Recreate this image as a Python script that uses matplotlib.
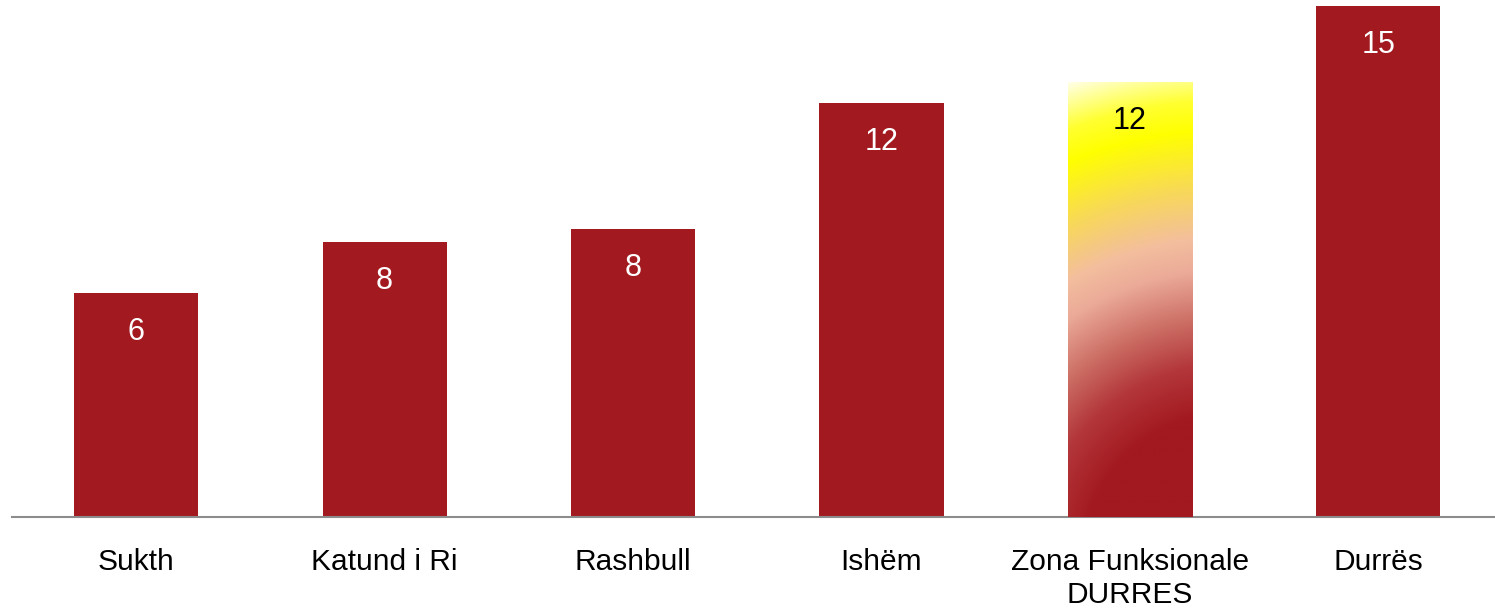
import numpy as np
import matplotlib
matplotlib.use("Agg")
import matplotlib.pyplot as plt
from matplotlib.colors import LinearSegmentedColormap

plt.rcParams['font.family'] = ['Liberation Sans', 'DejaVu Sans']

categories = ['Sukth', 'Katund i Ri', 'Rashbull', 'Ishëm', 'Zona Funksionale\nDURRES', 'Durrës']
values = [6.4, 7.86, 8.23, 11.83, 12.43, 14.6]
highlight = 4  # the functional zone bar gets the gradient fill

bar_red = '#A2191F'

fig = plt.figure(figsize=(14.95, 6.11), dpi=100)
ax = fig.add_axes([12 / 1495, 94 / 611, 1 - 12 / 1495, 517 / 611])

x = np.arange(len(categories))
bars = ax.bar(x, values, width=0.5, color=bar_red, zorder=2)
ax.set_xlim(-0.5, 5.47)
ax.set_ylim(0, 14.77)

# radial gradient for the highlighted bar, centred below its right edge
px_x = ax.bbox.width / (ax.get_xlim()[1] - ax.get_xlim()[0])
px_y = ax.bbox.height / (ax.get_ylim()[1] - ax.get_ylim()[0])
hb = bars[highlight]
x0, w, h = hb.get_x(), hb.get_width(), hb.get_height()
gx = np.linspace(x0, x0 + w, 200)
gy = np.linspace(0, h, 600)
GX, GY = np.meshgrid(gx, gy)
cx, cy = x0 + 1.3 * w, -43 / px_y
dist = np.hypot((GX - cx) * px_x, (GY - cy) * px_y)
stops = [(0, '#A2191F'), (145, '#A2191F'), (195, '#B3363A'), (235, '#C8665E'),
         (290, '#EBAA98'), (322, '#F3BE9E'), (371, '#F8D85A'), (430, '#FFFF00'),
         (460, '#FFFF30'), (510, '#FFFFFF')]
cmap = LinearSegmentedColormap.from_list('zone', [(d / 510, c) for d, c in stops])
img = ax.imshow(np.clip(dist / 510, 0, 1), cmap=cmap, vmin=0, vmax=1, origin='lower',
                extent=(x0, x0 + w, 0, h), aspect='auto', zorder=3, interpolation='bilinear')
img.set_clip_path(hb)

for i, (b, v) in enumerate(zip(bars, values)):
    ax.annotate(f'{v:.0f}', (b.get_x() + b.get_width() / 2, v), xytext=(0, -39),
                textcoords='offset pixels', ha='center', va='center', fontsize=22,
                color='black' if i == highlight else 'white', zorder=4)

ax.set_xticks(x)
ax.set_xticklabels(categories, fontsize=21.5, linespacing=1.25, va='top')
ax.tick_params(axis='x', length=0, pad=22)
ax.set_yticks([])
for side in ['top', 'right', 'left']:
    ax.spines[side].set_visible(False)
ax.spines['bottom'].set_color('#8C8C8C')
ax.spines['bottom'].set_linewidth(1.5)

fig.savefig('out.png', dpi=100)
